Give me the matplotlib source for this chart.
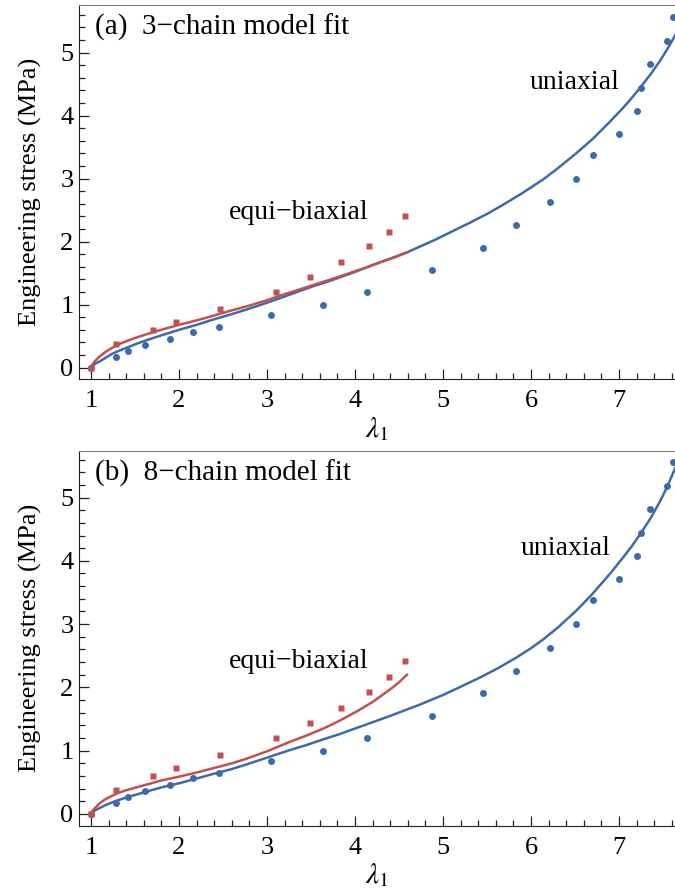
import matplotlib
matplotlib.use('Agg')
import matplotlib.pyplot as plt
from matplotlib.ticker import MultipleLocator

plt.rcParams['font.family'] = 'Liberation Serif'
plt.rcParams['mathtext.fontset'] = 'stix'
plt.rcParams['font.size'] = 19

blue = '#3c6aaa'
red = '#c44f4f'

### measured data ------------------------------------------------------------
uni_x = [1.0, 1.29, 1.42, 1.61, 1.90, 2.16, 2.45, 3.05, 3.64, 4.14, 4.87, 5.45,
         5.83, 6.22, 6.51, 6.70, 7.00, 7.20, 7.25, 7.35, 7.54, 7.61]
uni_y = [0.0, 0.175, 0.27, 0.365, 0.455, 0.567, 0.646, 0.84, 0.995, 1.20, 1.556, 1.905,
         2.265, 2.63, 2.995, 3.376, 3.71, 4.08, 4.44, 4.825, 5.19, 5.56]

bi_x = [1.0, 1.29, 1.70, 1.97, 2.47, 3.10, 3.49, 3.84, 4.16, 4.39, 4.57]
bi_y = [0.0, 0.376, 0.60, 0.72, 0.93, 1.20, 1.44, 1.68, 1.93, 2.16, 2.41]

### model curves ---------------------------------------------------------------
# (a) 3-chain
a_uni_x = [1.0, 1.01, 1.02, 1.05, 1.1, 1.17, 1.24, 1.33, 1.43, 1.52, 1.62, 1.77, 2.0,
           2.2, 2.38, 2.6, 2.76, 3.0, 3.14, 3.3, 3.52, 3.7, 3.82, 4.0, 4.2, 4.4, 4.59,
           4.75, 4.91, 5.1, 5.29, 5.5, 5.7, 5.9, 6.14, 6.3, 6.52, 6.7, 6.9, 7.05,
           7.15, 7.26, 7.37, 7.47, 7.55, 7.64]
a_uni_y = [0.0, 0.02, 0.035, 0.065, 0.10, 0.16, 0.22, 0.275, 0.33, 0.38, 0.43, 0.50, 0.60,
           0.68, 0.76, 0.85, 0.92, 1.03, 1.10, 1.18, 1.29, 1.37, 1.43, 1.52, 1.63, 1.73, 1.83,
           1.93, 2.03, 2.16, 2.29, 2.44, 2.60, 2.77, 2.99, 3.16, 3.41, 3.63, 3.91, 4.13,
           4.29, 4.48, 4.68, 4.88, 5.06, 5.28]
a_bi_x = [1.0, 1.01, 1.02, 1.05, 1.1, 1.17, 1.24, 1.33, 1.43, 1.52, 1.62, 1.77, 2.0,
          2.2, 2.38, 2.6, 2.76, 3.0, 3.14, 3.3, 3.52, 3.7, 3.82, 4.0, 4.15, 4.3, 4.45, 4.59]
a_bi_y = [0.0, 0.035, 0.06, 0.11, 0.18, 0.255, 0.315, 0.38, 0.435, 0.48, 0.525, 0.59, 0.68,
          0.75, 0.82, 0.91, 0.97, 1.07, 1.14, 1.21, 1.31, 1.39, 1.445, 1.53, 1.60, 1.68, 1.75, 1.83]

# (b) 8-chain
b_uni_x = [1.0, 1.01, 1.02, 1.05, 1.1, 1.15, 1.2, 1.3, 1.4, 1.5, 1.62, 1.8, 2.0, 2.2,
           2.38, 2.6, 2.76, 3.0, 3.26, 3.45, 3.64, 3.82, 4.02, 4.2, 4.4, 4.57, 4.74,
           5.0, 5.2, 5.44, 5.62, 5.82, 6.0, 6.14, 6.3, 6.52, 6.7, 6.9, 7.05, 7.15,
           7.26, 7.37, 7.47, 7.55, 7.64]
b_uni_y = [0.0, 0.018, 0.03, 0.06, 0.095, 0.13, 0.16, 0.215, 0.26, 0.30, 0.35, 0.42, 0.485,
           0.56, 0.63, 0.71, 0.78, 0.89, 1.01, 1.09, 1.18, 1.26, 1.36, 1.45, 1.55, 1.64, 1.73,
           1.88, 2.01, 2.17, 2.30, 2.46, 2.62, 2.76, 2.94, 3.22, 3.48, 3.80, 4.06, 4.24,
           4.46, 4.70, 4.95, 5.18, 5.47]
b_bi_x = [1.0, 1.01, 1.02, 1.05, 1.1, 1.15, 1.2, 1.3, 1.4, 1.5, 1.62, 1.8, 2.0, 2.2,
          2.38, 2.6, 2.76, 3.0, 3.26, 3.45, 3.64, 3.82, 4.02, 4.2, 4.4, 4.5, 4.59]
b_bi_y = [0.0, 0.03, 0.055, 0.10, 0.17, 0.22, 0.26, 0.33, 0.375, 0.415, 0.46, 0.53, 0.59,
          0.655, 0.72, 0.80, 0.87, 0.99, 1.14, 1.24, 1.35, 1.47, 1.62, 1.77, 1.97, 2.08, 2.20]

panels = [
    dict(pos=[79/675, 514/893, 596/675, 374/893], ylim=(-0.18, 5.757),
         title='(a)  3\u2212chain model fit', uni=(a_uni_x, a_uni_y), bi=(a_bi_x, a_bi_y),
         uni_lab=(6.5, 4.52), bi_lab=(3.36, 2.46)),
    dict(pos=[79/675, 67.3/893, 596/675, 375/893], ylim=(-0.185, 5.74),
         title='(b)  8\u2212chain model fit', uni=(b_uni_x, b_uni_y), bi=(b_bi_x, b_bi_y),
         uni_lab=(6.39, 4.20), bi_lab=(3.36, 2.41)),
]

fig = plt.figure(figsize=(6.75, 8.93), dpi=100)

for pp in panels:
    ax = fig.add_axes(pp['pos'])
    ax.plot(pp['bi'][0], pp['bi'][1], '-', color=red, lw=1.8, zorder=3)
    ax.plot(pp['uni'][0], pp['uni'][1], '-', color=blue, lw=1.8, zorder=2)
    ax.plot(uni_x, uni_y, 'o', mfc=blue, mec='none', markersize=5, zorder=4)
    ax.plot(bi_x, bi_y, 's', mfc=red, mec='none', markersize=4.5, zorder=4)

    ax.set_xlim(0.864, 7.636)
    ax.set_ylim(pp['ylim'])
    ax.xaxis.set_major_locator(MultipleLocator(1))
    ax.xaxis.set_minor_locator(MultipleLocator(0.2))
    ax.yaxis.set_major_locator(MultipleLocator(1))
    ax.yaxis.set_minor_locator(MultipleLocator(0.2))
    ax.tick_params(which='both', direction='in', top=False, right=False, width=0.9, color='#222222')
    ax.tick_params(which='major', length=7)
    ax.tick_params(which='minor', length=4)
    ax.tick_params(axis='x', pad=8, labelsize=19)
    ax.tick_params(axis='y', pad=4, labelsize=19)

    ax.spines['right'].set_visible(False)
    ax.spines['top'].set_color('#808080')
    ax.spines['left'].set_color('#222222')
    ax.spines['bottom'].set_color('#222222')

    ax.set_xlabel('$\\lambda_1$', fontsize=21, labelpad=2)
    ax.set_ylabel('Engineering stress (MPa)', fontsize=19, labelpad=13)

    ax.text(0.027, 0.94, pp['title'], transform=ax.transAxes, fontsize=21,
            ha='left', va='center')
    ax.text(pp['uni_lab'][0], pp['uni_lab'][1], 'uniaxial', fontsize=20,
            ha='center', va='center')
    ax.text(pp['bi_lab'][0], pp['bi_lab'][1], 'equi\u2212biaxial', fontsize=20,
            ha='center', va='center')

plt.savefig('out.png', dpi=100)
